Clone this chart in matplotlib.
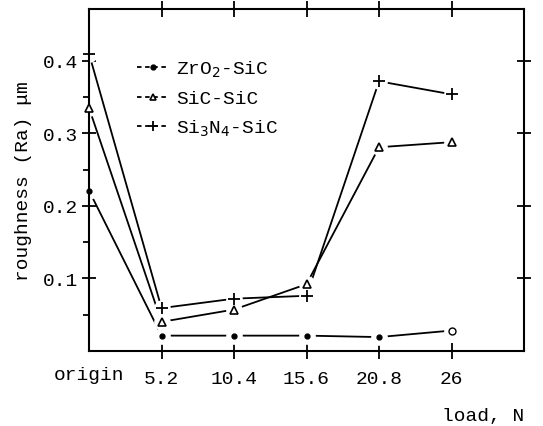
import numpy as np
import matplotlib.pyplot as plt
from matplotlib.lines import Line2D

plt.rcParams['font.family'] = ['Liberation Mono', 'DejaVu Sans Mono']

# x positions: origin, then the loads
loads = ['origin', '5.2', '10.4', '15.6', '20.8', '26']
zro2_sic = [0.221, 0.021, 0.021, 0.021, 0.019, 0.028]
sic_sic = [0.335, 0.040, 0.057, 0.092, 0.281, 0.288]
si3n4_sic = [0.410, 0.059, 0.072, 0.076, 0.372, 0.354]

x = np.arange(len(loads))

fig = plt.figure(figsize=(5.43, 4.27), dpi=100)
ax = fig.add_axes([0.164, 0.176, 0.801, 0.801])

series = [
    (zro2_sic, 'o', 3.5, r'ZrO$_2$-SiC'),
    (sic_sic, '^', 5.5, 'SiC-SiC'),
    (si3n4_sic, '+', 8, r'Si$_3$N$_4$-SiC'),
]

for vals, mk, ms, lab in series:
    ax.plot(x, vals, '-', color='black', lw=1.3, zorder=1)
    # white halo so the lines stop short of the markers
    ax.plot(x, vals, 'o', ms=11, color='white', mec='white', zorder=2)
    if mk == '^':
        ax.plot(x, vals, mk, ms=ms, mfc='white', mec='black', mew=1.2,
                ls='none', zorder=4, clip_on=False)
    elif mk == 'o':
        ax.plot(x[:-1], vals[:-1], mk, ms=ms, color='black', ls='none',
                zorder=4, clip_on=False)
        ax.plot(x[-1:], vals[-1:], mk, ms=5, mfc='white', mec='black',
                mew=1, ls='none', zorder=4)
    else:
        ax.plot(x, vals, mk, ms=ms, color='black', mew=1.3, ls='none',
                zorder=4, clip_on=False)

handles = [
    Line2D([], [], color='black', ls=(0, (2.5, 2)), lw=1.3, marker='o', ms=3.5),
    Line2D([], [], color='black', ls=(0, (2.5, 2)), lw=1.3, marker='^', ms=5,
           mfc='white', mew=1.2),
    Line2D([], [], color='black', ls=(0, (2.5, 2)), lw=1.3, marker='+', ms=7, mew=1.3),
]
ax.legend(handles, [s[3] for s in series], loc='upper left',
          bbox_to_anchor=(0.07, 0.905), frameon=False, fontsize=14,
          handlelength=1.6, handletextpad=0.4, labelspacing=0.55)

ax.set_xlim(0, 6)
ax.set_ylim(0, 0.472)

ax.set_xticks(x[1:])
ax.set_xticklabels(loads[1:], fontsize=14)
ax.text(0, -0.045, loads[0], transform=ax.get_xaxis_transform(),
        ha='center', va='top', fontsize=14)
ax.set_yticks([0.1, 0.2, 0.3, 0.4])
ax.set_yticklabels(['0.1', '0.2', '0.3', '0.4'], fontsize=14)
ax.set_yticks([0.05, 0.15, 0.25, 0.35], minor=True)

ax.tick_params(axis='x', which='major', direction='inout', length=12, width=1.3,
               top=True, pad=8)
ax.tick_params(axis='y', which='major', direction='inout', length=10, width=1.3,
               right=True, pad=3)
ax.tick_params(axis='y', which='minor', direction='out', length=4, width=1.3)

for s in ax.spines.values():
    s.set_linewidth(1.5)

ax.set_ylabel('roughness (Ra) \u03bcm', fontsize=14, labelpad=8)
ax.text(1.0, -0.165, 'load, N', transform=ax.transAxes, ha='right', va='top',
        fontsize=14)

fig.savefig('out.png', dpi=100)
